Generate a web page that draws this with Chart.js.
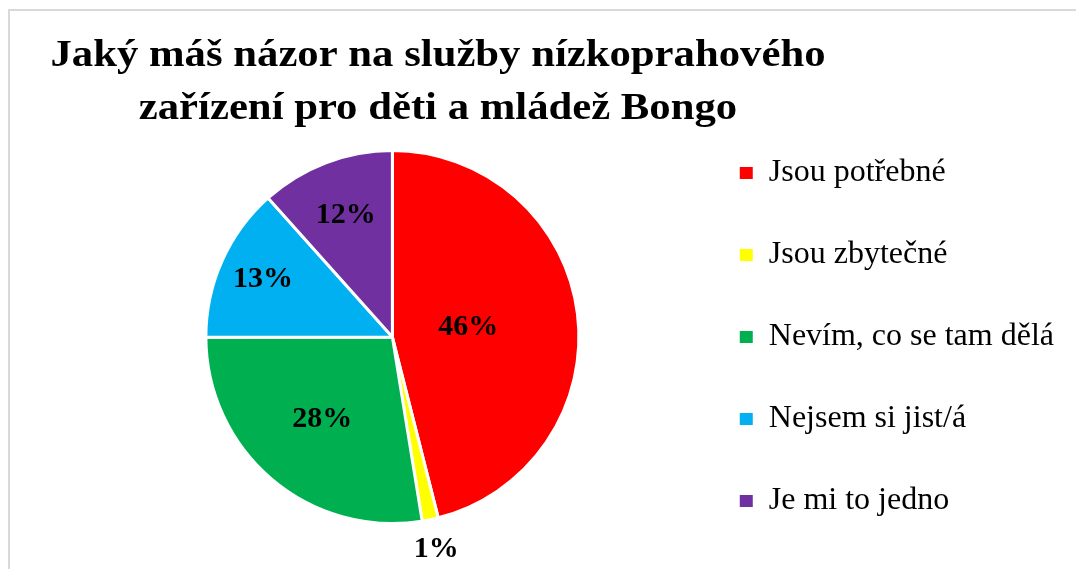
<!DOCTYPE html>
<html>
<head>
<meta charset="utf-8">
<script src="https://cdn.jsdelivr.net/npm/chart.js@4/dist/chart.umd.min.js"></script>
<style>
  html, body { margin: 0; padding: 0; background: #ffffff; overflow: hidden; }
  #wrap { position: relative; width: 1076px; height: 569px; }
  #frame { position: absolute; left: 8px; top: 9px; width: 1100px; height: 600px;
           border-left: 2px solid #d9d9d9; border-top: 2px solid #d9d9d9; box-sizing: border-box; }
  #c { position: absolute; left: 0; top: 0; }
</style>
</head>
<body>
<div id="wrap">
  <div id="frame"></div>
  <canvas id="c" width="1076" height="569"></canvas>
</div>
<script>
// ---- data ----
const titleLines = ['Jaký máš názor na služby nízkoprahového', 'zařízení pro děti a mládež Bongo'];
const categories = ['Jsou potřebné', 'Jsou zbytečné', 'Nevím, co se tam dělá', 'Nejsem si jist/á', 'Je mi to jedno'];
const values = [46.0, 1.4, 27.5, 13.4, 11.6];
const colors = ['#FF0000', '#FFFF00', '#00B050', '#00B0F0', '#7030A0'];

const SERIF = "'Liberation Serif', 'Times New Roman', Times, serif";

const titlePlugin = {
  id: 'customTitle',
  afterDraw(chart, args, opts) {
    const ctx = chart.ctx;
    ctx.save();
    ctx.fillStyle = '#000';
    ctx.font = 'bold ' + opts.size + 'px ' + SERIF;
    ctx.textAlign = 'center';
    ctx.textBaseline = 'alphabetic';
    const w0 = ctx.measureText(opts.lines[0]).width;
    const sx = opts.targetWidth / w0;
    opts.lines.forEach((line, i) => {
      ctx.save();
      ctx.translate(opts.cx, opts.baseline + i * opts.lineGap);
      ctx.scale(sx, 1);
      ctx.fillText(line, 0, 0);
      ctx.restore();
    });
    ctx.restore();
  }
};

const labelPlugin = {
  id: 'sliceLabels',
  afterDatasetsDraw(chart, args, opts) {
    const ctx = chart.ctx;
    const meta = chart.getDatasetMeta(0);
    const data = chart.data.datasets[0].data;
    const total = data.reduce((a, b) => a + b, 0);
    ctx.save();
    ctx.fillStyle = '#000';
    ctx.font = 'bold ' + opts.size + 'px ' + SERIF;
    ctx.textAlign = 'center';
    ctx.textBaseline = 'middle';
    meta.data.forEach((arc, i) => {
      const p = arc.getProps(['x', 'y', 'startAngle', 'endAngle', 'outerRadius'], true);
      const mid = (p.startAngle + p.endAngle) / 2;
      const r = p.outerRadius * opts.radial[i];
      const x = p.x + Math.cos(mid) * r;
      const y = p.y + Math.sin(mid) * r;
      ctx.fillText(Math.round(data[i] / total * 100) + '%', x, y);
    });
    ctx.restore();
  }
};

const baseGen = Chart.overrides.pie.plugins.legend.labels.generateLabels;

new Chart(document.getElementById('c'), {
  type: 'pie',
  data: {
    labels: categories,
    datasets: [{
      data: values,
      backgroundColor: colors,
      borderColor: '#ffffff',
      borderWidth: 3
    }]
  },
  options: {
    responsive: false,
    animation: false,
    radius: 186.5,
    layout: { padding: { top: 105, bottom: 0, left: 95, right: 12 } },
    plugins: {
      title: { display: false },
      tooltip: { enabled: false },
      legend: {
        position: 'right',
        labels: {
          boxWidth: 13,
          boxHeight: 12,
          padding: 50,
          color: '#000',
          font: { family: SERIF, size: 32 },
          generateLabels(chart) {
            return baseGen(chart).map(l => Object.assign(l, { lineWidth: 0, strokeStyle: l.fillStyle }));
          }
        }
      },
      customTitle: { lines: titleLines, size: 38, targetWidth: 775, cx: 438, baseline: 66, lineGap: 53 },
      sliceLabels: { size: 30, radial: [0.41, 1.16, 0.58, 0.76, 0.70] }
    }
  },
  plugins: [titlePlugin, labelPlugin]
});
</script>
</body>
</html>
